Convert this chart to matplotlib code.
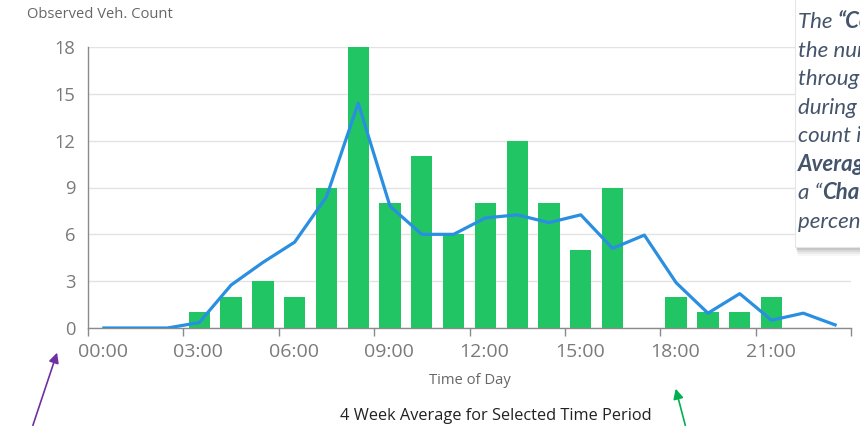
import matplotlib
matplotlib.use("Agg")
import matplotlib.pyplot as plt
from matplotlib.patches import Rectangle, FancyArrowPatch
from matplotlib.transforms import ScaledTranslation

# Hourly observed vehicle counts (bars) and 4-week average (line)
bar_hours = [3, 4, 5, 6, 7, 8, 9, 10, 11, 12, 13, 14, 15, 16, 18, 19, 20, 21]
bar_counts = [1, 2, 3, 2, 9, 18, 8, 11, 6, 8, 12, 8, 5, 9, 2, 1, 1, 2]

avg_hours = list(range(24))
avg_counts = [0, 0, 0, 0.35, 2.75, 4.2, 5.5, 8.4, 14.4, 7.8, 6.0, 6.0,
              7.05, 7.25, 6.75, 7.25, 5.1, 5.95, 2.9, 0.95, 2.2, 0.5, 0.95, 0.2]

x_ticks = [0, 3, 6, 9, 12, 15, 18, 21, 24]
x_tick_labels = ["00:00", "03:00", "06:00", "09:00", "12:00", "15:00", "18:00", "21:00", ""]
y_ticks = [0, 3, 6, 9, 12, 15, 18]

W, H = 860, 426
BAR_GREEN = "#22C563"
LINE_BLUE = "#2A8FE0"
TICK_GREY = "#7a7a7a"
NOTE_COLOR = "#44546A"

plt.rcParams["font.family"] = ["Open Sans", "DejaVu Sans"]

fig = plt.figure(figsize=(W / 100, H / 100), dpi=100)
ax = fig.add_axes([88 / W, (H - 328) / H, (851 - 88) / W, (328 - 47) / H])

ax.bar([h + 0.5 for h in bar_hours], bar_counts, width=0.67,
       color=BAR_GREEN, zorder=2)
ax.plot([h + 0.5 for h in avg_hours], avg_counts, color=LINE_BLUE,
        lw=2.3, zorder=3, solid_joinstyle="round")

ax.set_xlim(0, 24)
ax.set_ylim(0, 18)
ax.set_xticks(x_ticks)
ax.set_xticklabels(x_tick_labels)
ax.set_yticks(y_ticks)
ax.tick_params(axis="x", length=5.5, width=1, color="#8a8a8a", labelsize=14,
               labelcolor=TICK_GREY, pad=5)
ax.tick_params(axis="y", length=0, labelsize=13.2, labelcolor=TICK_GREY, pad=9)
# time labels sit slightly to the right of their tick marks
shift = ScaledTranslation(15 / 100, 0, fig.dpi_scale_trans)
for lbl in ax.get_xticklabels():
    lbl.set_transform(lbl.get_transform() + shift)
ax.grid(axis="y", color="#e3e3e3", lw=1, zorder=0)
ax.set_axisbelow(True)
for s in ("top", "right"):
    ax.spines[s].set_visible(False)
for s in ("left", "bottom"):
    ax.spines[s].set_color("#8a8a8a")
    ax.spines[s].set_linewidth(1)


def fx(px):
    return px / W


def fy(py):
    return 1 - py / H


fig.text(fx(27), fy(15), "Observed Veh. Count", fontsize=10.6, color="#666666",
         ha="left", va="center")
fig.text(fx(470), fy(380), "Time of Day", fontsize=10.6, color="#666666",
         ha="center", va="center")
fig.text(fx(496), fy(416), "4 Week Average for Selected Time Period",
         fontsize=11.8, color="#222222", ha="center", va="center")

# Note panel with a soft drop shadow
box_left, box_bottom = 795, 247
for off, a in [(9, 0.03), (7, 0.05), (5, 0.07), (3, 0.09)]:
    fig.add_artist(Rectangle((fx(box_left + off * 0.3), fy(box_bottom + off)),
                             fx(W - box_left + 10), fy(0) - fy(box_bottom + off) + 0.02,
                             transform=fig.transFigure, facecolor="#000000",
                             alpha=a, edgecolor="none", zorder=5))
fig.add_artist(Rectangle((fx(box_left), fy(box_bottom)), fx(W - box_left + 10),
                         fy(0) - fy(box_bottom) + 0.02,
                         transform=fig.transFigure, facecolor="white",
                         edgecolor="#e6e6e6", lw=0.8, zorder=6))

note_lines = [
    [("The ", False), ("\u201cCount\u201d", True), (" value shows", False)],
    [("the number of vehicles passing", False)],
    [("through the intersection", False)],
    [("during the selected period. The", False)],
    [("count is compared with the 4 Week", False)],
    [("Average", True), (" and shown as", False)],
    [("a \u201c", False), ("Change", True), ("\u201d value, in", False)],
    [("percentage terms.", False)],
]

fig.canvas.draw()
renderer = fig.canvas.get_renderer()
base0, step = 28.3, 28.5
for i, runs in enumerate(note_lines):
    x = 797.5
    for txt, bold in runs:
        t = fig.text(fx(x), fy(base0 + i * step), txt, fontsize=16,
                     family=["Lato", "Open Sans", "DejaVu Sans"], style="italic",
                     fontweight="bold" if bold else "normal", color=NOTE_COLOR,
                     ha="left", va="baseline", zorder=7)
        bb = t.get_window_extent(renderer=renderer)
        x += bb.width

# Pointer arrows
fig.add_artist(FancyArrowPatch((fx(32), fy(428)), (fx(58), fy(350)),
                               transform=fig.transFigure, arrowstyle="-|>",
                               mutation_scale=15, color="#7030A0", lw=1.2,
                               zorder=8))
fig.add_artist(FancyArrowPatch((fx(686), fy(428)), (fx(675), fy(386)),
                               transform=fig.transFigure, arrowstyle="-|>",
                               mutation_scale=15, color="#00B050", lw=1.2,
                               zorder=8))

fig.savefig("out.png", dpi=100)
